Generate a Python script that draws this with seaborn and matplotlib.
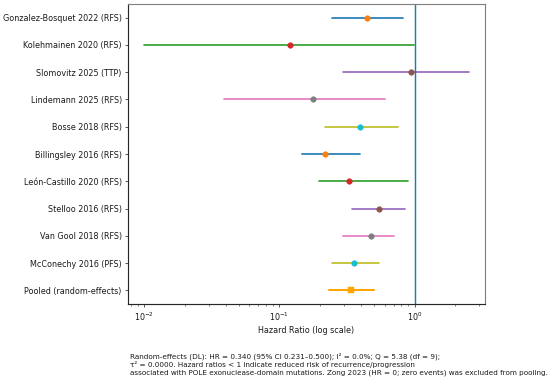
import numpy as np
import pandas as pd
import matplotlib
matplotlib.use("Agg")
import matplotlib.pyplot as plt
import seaborn as sns

studies = ["Gonzalez-Bosquet 2022 (RFS)", "Kolehmainen 2020 (RFS)", "Slomovitz 2025 (TTP)",
           "Lindemann 2025 (RFS)", "Bosse 2018 (RFS)", "Billingsley 2016 (RFS)",
           "León-Castillo 2020 (RFS)", "Stelloo 2016 (RFS)", "Van Gool 2018 (RFS)",
           "McConechy 2016 (PFS)"]
hr = [0.446, 0.119, 0.945, 0.178, 0.396, 0.218, 0.326, 0.544, 0.478, 0.357]
lower = [0.244, 0.010, 0.294, 0.039, 0.216, 0.148, 0.195, 0.343, 0.294, 0.244]
upper = [0.824, 0.995, 2.52, 0.600, 0.753, 0.398, 0.900, 0.857, 0.703, 0.550]
pooled_label = "Pooled (random-effects)"
pooled_hr = 0.340
pooled_lo = 0.231
pooled_hi = 0.500

caption = ("Random-effects (DL): HR = 0.340 (95% CI 0.231–0.500); I² = 0.0%; Q = 5.38 (df = 9);\n"
           "τ² = 0.0000. Hazard ratios < 1 indicate reduced risk of recurrence/progression\n"
           "associated with POLE exonuclease-domain mutations. Zong 2023 (HR = 0; zero events) was excluded from pooling.")

sns.set_style("ticks", {"text.color": "0.1", "axes.labelcolor": "0.1",
                        "xtick.color": "0.1", "ytick.color": "0.1"})
pal = sns.color_palette("tab10")

fig = plt.figure(figsize=(550 / 64, 384 / 64), dpi=64)
ax = fig.add_axes([128 / 550, 1 - 304 / 384, (485 - 128) / 550, 300 / 384])

df = pd.DataFrame({"study": studies, "hr": hr, "lo": lower, "hi": upper,
                   "pos": np.arange(len(studies))})
for i, row in df.iterrows():
    lc = pal[(2 * i) % 10]
    mc = pal[(2 * i + 1) % 10]
    ax.plot([row.lo, row.hi], [row.pos, row.pos], color=lc, lw=1.9)
    sns.scatterplot(x=[row.hr], y=[row.pos], color=mc, s=40, edgecolor=mc,
                    linewidth=0.5, ax=ax, zorder=3)

pp = len(studies)
ax.plot([pooled_lo, pooled_hi], [pp, pp], color="orange", lw=2.3)
sns.scatterplot(x=[pooled_hr], y=[pp], color="orange", marker="s", s=60,
                edgecolor="orange", linewidth=0.5, ax=ax, zorder=3)

ax.axvline(1.0, color=pal[0], lw=1.6)
ax.set_xscale("log")
ax.set_yticks(list(range(len(studies) + 1)))
ax.set_yticklabels(studies + [pooled_label])
ax.set_ylim(len(studies) + 0.5, -0.5)
ax.set_xlabel("Hazard Ratio (log scale)", fontsize=9)
ax.set_ylabel("")
ax.tick_params(labelsize=9)
for s in ax.spines.values():
    s.set_visible(True)
    s.set_linewidth(1.3)
ax.spines["top"].set_color("0.5")
ax.spines["right"].set_color("0.5")

fig.text(130 / 550, 1 - 352 / 384, caption, ha="left", va="top", fontsize=8.1,
         linespacing=1.3, color="0.1")

fig.savefig("out.png", dpi=64)
